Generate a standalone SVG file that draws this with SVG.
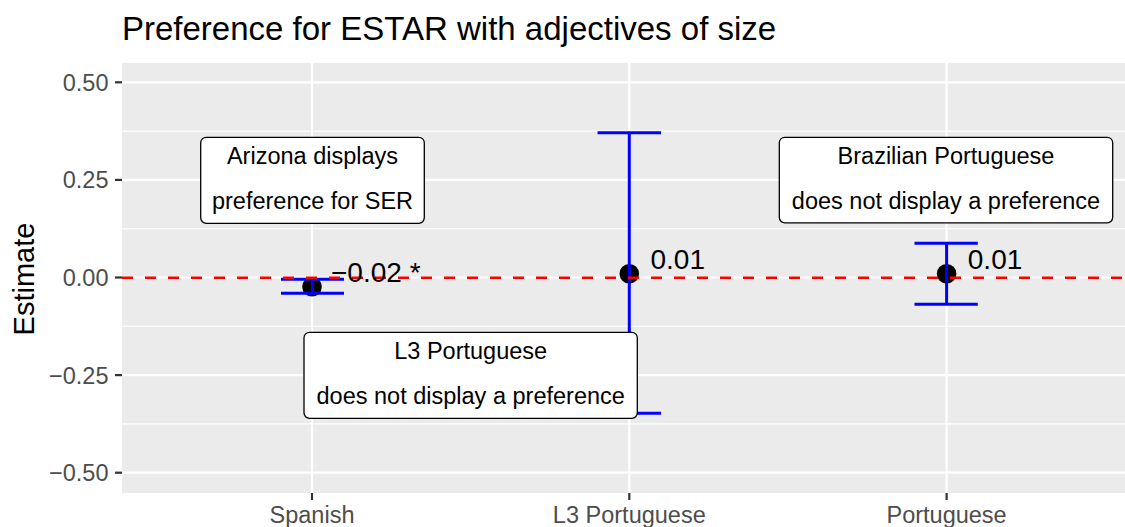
<svg xmlns="http://www.w3.org/2000/svg" width="1125" height="527" viewBox="0 0 1125 527">
<style>
text{font-family:"Liberation Sans",Arial,Helvetica,sans-serif}
.major{stroke:#fff;stroke-width:2.2}
.minor{stroke:#fff;stroke-width:1.1}
.tick{stroke:#333;stroke-width:2.2}
.ytl{font-size:23.5px;fill:#4D4D4D;text-anchor:end}
.xtl{font-size:23.5px;fill:#4D4D4D;text-anchor:middle}
.eb{stroke:#0000FF;stroke-width:3;fill:none}
.pt{fill:#000}
.val{font-size:28px;fill:#000}
.box{fill:#fff;stroke:#000;stroke-width:1.3}
.bt{font-size:23.5px;fill:#000;text-anchor:middle}
</style>
<rect width="1125" height="527" fill="#fff"/>
<g id="panel">
<rect x="122" y="63" width="1003" height="430" fill="#EBEBEB"/>
<line class="minor" x1="122" x2="1125" y1="131.1" y2="131.1"/>
<line class="minor" x1="122" x2="1125" y1="228.7" y2="228.7"/>
<line class="minor" x1="122" x2="1125" y1="326.3" y2="326.3"/>
<line class="minor" x1="122" x2="1125" y1="423.9" y2="423.9"/>
<line class="major" x1="122" x2="1125" y1="82.3" y2="82.3"/>
<line class="major" x1="122" x2="1125" y1="179.9" y2="179.9"/>
<line class="major" x1="122" x2="1125" y1="277.5" y2="277.5"/>
<line class="major" x1="122" x2="1125" y1="375.1" y2="375.1"/>
<line class="major" x1="122" x2="1125" y1="472.7" y2="472.7"/>
<line class="major" x1="312" x2="312" y1="63" y2="493"/>
<line class="major" x1="629.3" x2="629.3" y1="63" y2="493"/>
<line class="major" x1="946.6" x2="946.6" y1="63" y2="493"/>
</g>
<g id="axes">
<line class="tick" x1="115" x2="122" y1="82.3" y2="82.3"/>
<line class="tick" x1="115" x2="122" y1="179.9" y2="179.9"/>
<line class="tick" x1="115" x2="122" y1="277.5" y2="277.5"/>
<line class="tick" x1="115" x2="122" y1="375.1" y2="375.1"/>
<line class="tick" x1="115" x2="122" y1="472.7" y2="472.7"/>
<line class="tick" x1="312" x2="312" y1="493" y2="500"/>
<line class="tick" x1="629.3" x2="629.3" y1="493" y2="500"/>
<line class="tick" x1="946.6" x2="946.6" y1="493" y2="500"/>
<text class="ytl" x="108.5" y="90.7">0.50</text>
<text class="ytl" x="108.5" y="188.3">0.25</text>
<text class="ytl" x="108.5" y="285.9">0.00</text>
<text class="ytl" x="108.5" y="383.5">−0.25</text>
<text class="ytl" x="108.5" y="481.1">−0.50</text>
<text class="xtl" x="312" y="522.5">Spanish</text>
<text class="xtl" x="629.3" y="522.5">L3 Portuguese</text>
<text class="xtl" x="946.6" y="522.5">Portuguese</text>
<text x="33.5" y="279" transform="rotate(-90 33.5 279)" style="font-size:29px;fill:#000;text-anchor:middle">Estimate</text>
<text x="122" y="40" style="font-size:33px;fill:#000">Preference for ESTAR with adjectives of size</text>
</g>
<g id="node-spanish">
<circle class="pt" cx="312" cy="286.7" r="9.8"/>
<path class="eb" d="M281 279.3H344M281 293.3H344M312.5 279.3V293.3"/>
</g>
<g id="node-l3">
<circle class="pt" cx="629.3" cy="273.8" r="9.8"/>
<path class="eb" d="M597.5 132.7H661M597.5 413.3H661M629.3 132.7V413.3"/>
</g>
<g id="node-portuguese">
<circle class="pt" cx="946.6" cy="273.8" r="9.8"/>
<path class="eb" d="M914.5 243.3H977.8M914.5 304.3H977.8M946.6 243.3V304.3"/>
</g>
<g id="connectors">
<line x1="122" x2="1125" y1="277.7" y2="277.7" stroke="#FF0000" stroke-width="2.6" stroke-dasharray="11 12"/>
</g>
<g id="values">
<text class="val" x="331" y="281.7">−0.02 *</text>
<text class="val" x="650.5" y="268.5">0.01</text>
<text class="val" x="967.8" y="269">0.01</text>
</g>
<g id="label-arizona">
<rect class="box" x="200.7" y="137.3" width="223.6" height="86" rx="5.5"/>
<text class="bt" x="312.5" y="164.3">Arizona displays</text>
<text class="bt" x="312.5" y="209.3">preference for SER</text>
</g>
<g id="label-l3">
<rect class="box" x="304" y="332.3" width="333.3" height="86" rx="5.5"/>
<text class="bt" x="470.7" y="359.3">L3 Portuguese</text>
<text class="bt" x="470.7" y="403.8">does not display a preference</text>
</g>
<g id="label-brazil">
<rect class="box" x="779.3" y="137.3" width="333.4" height="85.5" rx="5.5"/>
<text class="bt" x="946" y="164.3">Brazilian Portuguese</text>
<text class="bt" x="946" y="209.3">does not display a preference</text>
</g>
</svg>
